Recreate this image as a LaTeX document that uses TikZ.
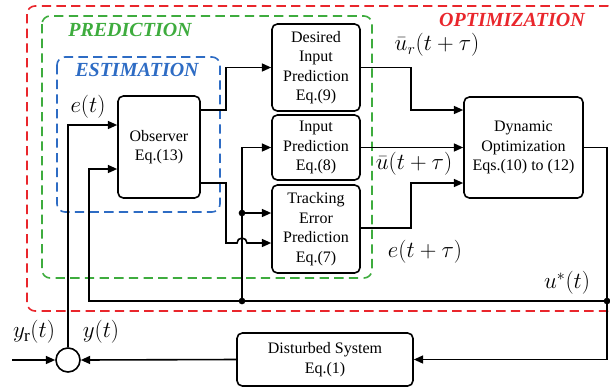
\documentclass[tikz,border=0pt]{standalone}
\usepackage{fontspec}
\setmainfont{Liberation Serif}
\usetikzlibrary{arrows.meta,positioning}

\definecolor{optred}{RGB}{233,38,44}
\definecolor{predgreen}{RGB}{62,172,62}
\definecolor{estblue}{RGB}{46,108,196}

\begin{document}
\begin{tikzpicture}[x=0.75pt,y=-0.75pt,
	block/.style={draw, line width=1.2pt, rounded corners=4pt, align=center, inner sep=0pt, font=\fontsize{12}{14.6}\selectfont},
	wire/.style={line width=1.2pt},
	link/.style={line width=1.2pt, -{Triangle[length=7pt,width=6pt]}},
	region/.style={dash pattern=on 7pt off 4pt, line width=1.2pt, rounded corners=6pt},
	joint/.style={circle, fill, inner sep=0pt, minimum size=5pt},
	sig/.style={font=\fontsize{18.5}{18.5}\selectfont, inner sep=1pt}
	]
	\newcommand{\mytitlefont}[1]{
		\fontsize{15}{15}\selectfont\bfseries\itshape{#1}
	}
	\useasboundingbox (0,0) rectangle (610,387);
	%Dashed regions
	\draw[region, optred] (27,6) rectangle (616,311);
	\draw[region, predgreen] (42,16) rectangle (372,278);
	\draw[region, estblue] (57,57) rectangle (220,212);
	\node [text=optred] (titleOpt) at (512,20) {\mytitlefont{OPTIMIZATION}};
	\node [text=predgreen] (titlePred) at (130,30) {\mytitlefont{PREDICTION}};
	\node [text=estblue] (titleEst) at (137,70) {\mytitlefont{ESTIMATION}};
	%Blocks
	\node [block, minimum width=61.5pt, minimum height=76.5pt] (obs) at (159,147) {Observer\\Eq.(13)};
	\node [block, minimum width=66pt, minimum height=65.25pt] (dip) at (316,67.5) {Desired\\Input\\Prediction\\Eq.(9)};
	\node [block, minimum width=66pt, minimum height=48.75pt] (ip) at (316,147.5) {Input\\Prediction\\Eq.(8)};
	\node [block, minimum width=66pt, minimum height=66pt] (tep) at (316,229) {Tracking\\Error\\Prediction\\Eq.(7)};
	\node [block, minimum width=89.25pt, minimum height=75.75pt] (dyn) at (523.5,147.5) {Dynamic\\Optimization\\Eqs.(10) to (12)};
	\node [block, minimum width=132pt, minimum height=39.75pt] (dsys) at (325,359.5) {Disturbed System\\Eq.(1)};
	%Summing junction
	\node [draw, circle, line width=1.2pt, minimum size=18pt, inner sep=0pt] (sum) at (68,360) {};
	%Observer outputs
	\draw[link] (obs.east |- 0,110) -- (226,110) |- (dip.west);
	\draw[link] (obs.east |- 0,183) -- (226,183) -- (226,243) -- (237,243)
		arc[start angle=180, end angle=0, radius=3.75pt] -- (tep.west |- 0,243);
	%Feedback bus of u*(t)
	\coordinate (jTop) at (242,213);
	\coordinate (jBot) at (242,301);
	\coordinate (jRight) at (607,301);
	\draw[link] (jBot) |- (ip.west);
	\draw[link] (jTop) -- (tep.west |- jTop);
	\draw[wire] (dyn.east) -| (jRight);
	\draw[link] (jRight) |- (dsys.east);
	\draw[link] (jRight) -- (89,301) |- (obs.west |- 0,169);
	\node [joint] (dotTop) at (jTop) {};
	\node [joint] (dotBot) at (jBot) {};
	\node [joint] (dotRight) at (jRight) {};
	%Predictions into the optimization
	\coordinate (bendUr) at (411,110);
	\coordinate (bendE) at (411,183);
	\draw[link] (dip.east) -| (bendUr) -- (dyn.west |- bendUr);
	\draw[link] (ip.east) -- (dyn.west |- ip.east);
	\draw[link] (tep.east |- 0,228) -| (bendE) -- (dyn.west |- bendE);
	%Plant loop
	\coordinate (yrIn) at (12,360);
	\draw[link] (dsys.west) -- (sum.east);
	\draw[link] (yrIn) -- (sum.west);
	\draw[link] (sum.north) |- (obs.west |- 0,125);
	%Signal labels
	\node [sig] (lblE) at (88,107) {$e(t)$};
	\node [sig] (lblUr) at (437,45) {$\bar{u}_r(t+\tau)$};
	\node [sig] (lblU) at (414,164) {$\bar{u}(t+\tau)$};
	\node [sig] (lblEtau) at (425,252) {$e(t+\tau)$};
	\node [sig] (lblUstar) at (567,283) {$u^{*}(t)$};
	\node [sig] (lblYr) at (34,332) {$y_{\mathrm{r}}(t)$};
	\node [sig] (lblY) at (101,332) {$y(t)$};
\end{tikzpicture}
\end{document}
